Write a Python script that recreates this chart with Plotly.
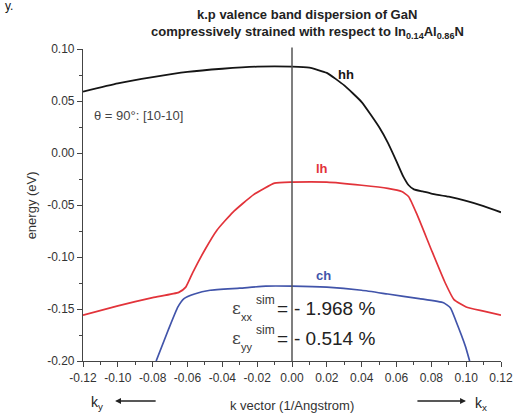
import plotly.graph_objects as go

# k.p valence band dispersion (energy in eV versus k in 1/Angstrom)
hh_k = [-0.12, -0.10, -0.08, -0.06, -0.04, -0.02, 0.0, 0.01, 0.02, 0.03, 0.04, 0.05,
        0.055, 0.06, 0.064, 0.067, 0.07, 0.075, 0.08, 0.09, 0.10, 0.11, 0.12]
hh_E = [0.059, 0.067, 0.073, 0.078, 0.081, 0.083, 0.083, 0.082, 0.077, 0.065, 0.049, 0.025,
        0.010, -0.008, -0.023, -0.031, -0.035, -0.037, -0.039, -0.042, -0.046, -0.051, -0.057]

lh_k = [-0.12, -0.10, -0.08, -0.065, -0.061, -0.057, -0.05, -0.043, -0.034, -0.022, -0.01, 0.0,
        0.02, 0.04, 0.055, 0.063, 0.067, 0.072, 0.08, 0.088, 0.093, 0.10, 0.11, 0.12]
lh_E = [-0.156, -0.147, -0.139, -0.134, -0.129, -0.115, -0.093, -0.074, -0.057, -0.040, -0.029, -0.028,
        -0.028, -0.031, -0.034, -0.037, -0.042, -0.060, -0.093, -0.125, -0.141, -0.148, -0.152, -0.156]

ch_k = [-0.078, -0.071, -0.0655, -0.062, -0.056, -0.047, -0.03, -0.015, 0.0, 0.02, 0.04, 0.055,
        0.073, 0.087, 0.091, 0.094, 0.0996, 0.102]
ch_E = [-0.200, -0.170, -0.148, -0.140, -0.1356, -0.132, -0.130, -0.128, -0.128, -0.129, -0.132, -0.1356,
        -0.140, -0.144, -0.149, -0.161, -0.186, -0.200]

x_ticks = [-0.12, -0.10, -0.08, -0.06, -0.04, -0.02, 0.00, 0.02, 0.04, 0.06, 0.08, 0.10, 0.12]
x_tick_text = ["-0.12", "-0.10", "-0.08", "-0.06", "-0.04", "-0.02", "0.00",
               "0.02", "0.04", "0.06", "0.08", "0.10", "0.12"]
y_ticks = [-0.20, -0.15, -0.10, -0.05, 0.00, 0.05, 0.10]
y_tick_text = ["-0.20", "-0.15", "-0.10", "-0.05", "0.00", "0.05", "0.10"]

W, H = 525, 419
L, R, T, B = 83, 512, 49, 361
FONT = "Liberation Sans, Arial, sans-serif"


def px(x, y):
    """Pixel position on the page -> paper coordinates."""
    return (x - L) / (R - L), (B - y) / (B - T)


fig = go.Figure()
line_style = dict(shape="spline", smoothing=0.45)
fig.add_trace(go.Scatter(x=hh_k, y=hh_E, mode="lines",
                         line=dict(color="#151515", width=1.8, **line_style)))
fig.add_trace(go.Scatter(x=lh_k, y=lh_E, mode="lines",
                         line=dict(color="#e2333a", width=1.7, **line_style)))
fig.add_trace(go.Scatter(x=ch_k, y=ch_E, mode="lines",
                         line=dict(color="#4154aa", width=1.7, **line_style)))

# vertical marker at k = 0
fig.add_shape(type="line", xref="x", yref="paper", x0=0, x1=0, y0=0, y1=1.005,
              line=dict(color="#555555", width=1.5))

annotations = []


def text(x, y, s, size=13, color="#222222", bold=False, xanchor="center", yanchor="middle",
         family=FONT, angle=0):
    xp, yp = px(x, y)
    if bold:
        s = "<b>" + s + "</b>"
    annotations.append(dict(xref="paper", yref="paper", x=xp, y=yp, text=s, showarrow=False,
                            xanchor=xanchor, yanchor=yanchor, textangle=angle,
                            font=dict(family=family, size=size, color=color)))


# title
text(313, 15, "k.p valence band dispersion of GaN", size=13, bold=True)
text(313, 33, "compressively strained with respect to In<sub>0.14</sub>Al<sub>0.86</sub>N",
     size=13, bold=True)
text(1, 6, "y.", size=12, color="#111111", xanchor="left")

# band labels
text(353, 74, "hh", size=13, bold=True, color="#151515")
text(328, 168, "lh", size=13, bold=True, color="#e2333a")
text(330, 275, "ch", size=13, bold=True, color="#4154aa")

# orientation
text(92, 115, "θ = 90°: [10-10]", size=13, color="#444444", xanchor="left")

# strain values
for yy, sub, val in [(308, "xx", "- 1.968 %"), (338, "yy", "- 0.514 %")]:
    text(241, yy, "ε", size=17, color="#444444", family="DejaVu Serif, serif")
    text(251, yy + 9, sub, size=11, color="#333333")
    text(270, yy - 8, "sim", size=12, color="#333333")
    text(288, yy, "=", size=19, color="#222222")
    text(298, yy, val, size=19, color="#222222", xanchor="left")

# axis titles
text(297, 405, "k vector (1/Angstrom)", size=13, color="#333333")
text(30, 205, "energy (eV)", size=13, color="#333333", angle=-90)

# direction arrows
text(97, 403, "k<sub>y</sub>", size=14, color="#222222")
text(491, 404, "k<sub>x</sub>", size=14, color="#222222")
hx, hy = px(116, 401)
annotations.append(dict(xref="paper", yref="paper", x=hx, y=hy, ax=42, ay=0, text="",
                        showarrow=True, arrowhead=2, arrowsize=0.9, arrowwidth=1.3,
                        arrowcolor="#222222"))
hx, hy = px(476, 401)
annotations.append(dict(xref="paper", yref="paper", x=hx, y=hy, ax=-50, ay=0, text="",
                        showarrow=True, arrowhead=2, arrowsize=0.9, arrowwidth=1.3,
                        arrowcolor="#222222"))

axis_common = dict(showline=True, linecolor="#444444", linewidth=1.2, ticks="outside",
                   ticklen=5, tickwidth=1.1, tickcolor="#444444", showgrid=False, zeroline=False,
                   tickfont=dict(family=FONT, size=12, color="#333333"), mirror=False)

fig.update_layout(
    width=W, height=H,
    margin=dict(l=L, r=W - R, t=T, b=H - B, pad=0),
    paper_bgcolor="white", plot_bgcolor="white",
    showlegend=False,
    annotations=annotations,
    xaxis=dict(range=[-0.12, 0.12], tickvals=x_ticks, ticktext=x_tick_text,
               minor=dict(ticks="outside", dtick=0.01, tick0=0, ticklen=3, tickcolor="#444444"),
               **axis_common),
    yaxis=dict(range=[-0.20, 0.10], tickvals=y_ticks, ticktext=y_tick_text,
               minor=dict(ticks="outside", dtick=0.025, tick0=0, ticklen=3, tickcolor="#444444"),
               **axis_common),
)

fig.write_html("out.html")
